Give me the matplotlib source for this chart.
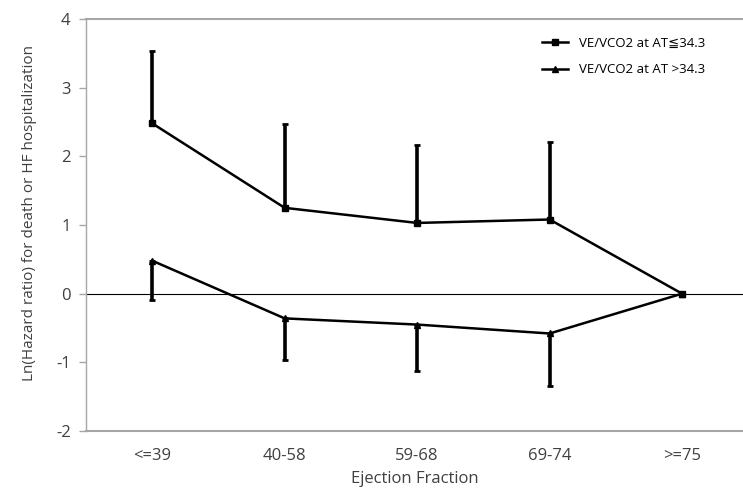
import matplotlib.pyplot as plt
import numpy as np

plt.rcParams['font.family'] = ['Open Sans', 'DejaVu Sans']
plt.rcParams['axes.unicode_minus'] = False

cats = ['<=39', '40-58', '59-68', '69-74', '>=75']
low_vals = [2.48, 1.25, 1.03, 1.08, 0.0]       # VE/VCO2 at AT <= 34.3
low_upper = [3.54, 2.47, 2.17, 2.21, 0.0]
high_vals = [0.48, -0.36, -0.45, -0.58, 0.0]   # VE/VCO2 at AT > 34.3
high_lower = [-0.09, -0.97, -1.13, -1.34, 0.0]

x = np.arange(len(cats))
low_vals = np.array(low_vals)
high_vals = np.array(high_vals)
err_up = np.array(low_upper) - low_vals
err_dn = high_vals - np.array(high_lower)

fig = plt.figure(figsize=(7.43, 4.95), dpi=100)
ax = fig.add_axes([86/743, 1 - 431/495, 1 - 86/743, (431 - 19)/495])

ax.axhline(0, color='black', lw=0.8, zorder=1)

ax.errorbar(x, low_vals, yerr=[np.zeros_like(err_up), err_up], fmt='none',
            ecolor='black', elinewidth=2.6, capsize=2.5, capthick=2, zorder=2)
ax.errorbar(x, high_vals, yerr=[err_dn, np.zeros_like(err_dn)], fmt='none',
            ecolor='black', elinewidth=2.6, capsize=2.5, capthick=2, zorder=2)

ax.plot(x, low_vals, '-s', color='black', lw=1.8, markersize=5,
        label='VE/VCO2 at AT\u226634.3', zorder=3)
ax.plot(x, high_vals, '-^', color='black', lw=1.8, markersize=4,
        label='VE/VCO2 at AT >34.3', zorder=3)

ax.set_xlim(-0.5, 4.46)
ax.set_ylim(-2, 4)
ax.set_yticks(range(-2, 5))
ax.set_xticks(x)
ax.set_xticklabels(cats)

for s in ['top', 'bottom', 'left']:
    ax.spines[s].set_color('#a6a6a6')
    ax.spines[s].set_linewidth(1.5)
ax.spines['left'].set_linewidth(1)
ax.spines['right'].set_visible(False)
ax.tick_params(axis='y', colors='#a6a6a6', labelcolor='#404040', labelsize=12,
               length=5, width=1, pad=6)
ax.tick_params(axis='x', length=0, labelcolor='#404040', labelsize=12, pad=12)

ax.set_xlabel('Ejection Fraction', fontsize=12, color='#404040', labelpad=5)
ax.set_ylabel('Ln(Hazard ratio) for death or HF hospitalization', fontsize=11,
              color='#404040')
ax.yaxis.set_label_coords(-0.075, 0.53)

ax.legend(loc='upper right', bbox_to_anchor=(0.96, 0.985), frameon=False,
          fontsize=9.5, handlelength=2, labelspacing=1.0)

plt.savefig('out.png')
